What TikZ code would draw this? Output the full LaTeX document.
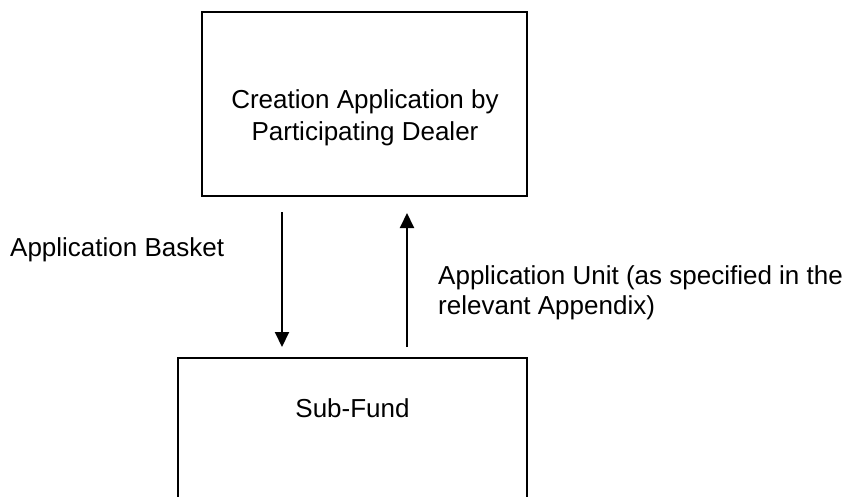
\documentclass[tikz,border=0pt]{standalone}
\usepackage{fontspec}
\setmainfont{Liberation Sans}
\usetikzlibrary{arrows.meta}
\begin{document}
\begin{tikzpicture}[x=1pt,y=-1pt,
  box/.style={draw=black, line width=2pt, inner sep=0pt},
  txt/.style={inner sep=0pt, font=\fontsize{26}{32}\selectfont},
  arr/.style={line width=2pt, -{Triangle[width=14pt,length=15pt]}}]
\useasboundingbox (0,0) rectangle (854,496);
\clip (0,0) rectangle (854,496);
\node[box, minimum width=325pt, minimum height=184pt] (top) at (364.5,104) {};
\node[txt, align=center, anchor=base] (toptxt) at (365,140) {Creation Application by\\Participating Dealer};
\node[box, minimum width=349pt, minimum height=200pt, anchor=north] (bot) at (352.5,357) {};
\node[txt, anchor=base] (bottxt) at (352.5,417) {Sub-Fund};
\coordinate (xa) at (282,0);
\coordinate (xb) at (407,0);
\draw[arr, shorten <=15pt, shorten >=10pt] (top.south -| xa) -- (bot.north -| xa);
\draw[arr, shorten <=10pt, shorten >=16pt] (bot.north -| xb) -- (top.south -| xb);
\node[txt, anchor=base west] (lab1) at (10,256) {Application Basket};
\node[txt, anchor=base west, align=left, font=\fontsize{26}{30}\selectfont] (lab2) at (438,314) {Application Unit (as specified in the\\relevant Appendix)};
\end{tikzpicture}
\end{document}
